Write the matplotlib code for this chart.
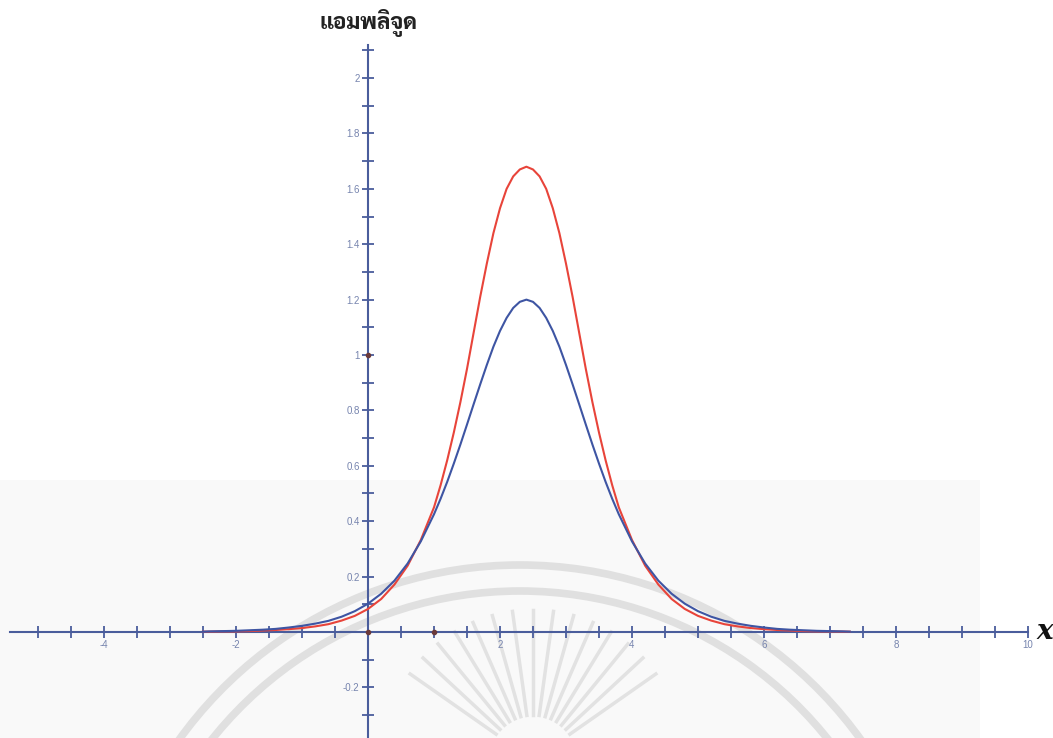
import matplotlib
matplotlib.use("Agg")
import matplotlib.pyplot as plt
import numpy as np
from matplotlib import font_manager as fm
from matplotlib.ft2font import FT2Font
from matplotlib.patches import Arc, Rectangle

# values
x_vals = [-2.5, -2.4, -2.2, -2.0, -1.8, -1.6, -1.4, -1.2, -1.0, -0.8, -0.6, -0.4, -0.2,
          0.0, 0.2, 0.4, 0.6, 0.8, 1.0, 1.1, 1.2, 1.3, 1.4, 1.5, 1.6, 1.7, 1.8, 1.9,
          2.0, 2.1, 2.2, 2.3, 2.4, 2.5, 2.6, 2.7, 2.8, 2.9, 3.0, 3.1, 3.2, 3.3, 3.4,
          3.5, 3.6, 3.7, 3.8, 4.0, 4.2, 4.4, 4.6, 4.8, 5.0,
          5.2, 5.4, 5.6, 5.8, 6.0, 6.2, 6.4, 6.6, 6.8, 7.0, 7.2, 7.3]
red_vals = [0.001, 0.001, 0.002, 0.002, 0.003, 0.005, 0.007, 0.010, 0.014, 0.020, 0.028, 0.041, 0.058,
            0.083, 0.119, 0.171, 0.239, 0.332, 0.450, 0.530, 0.620, 0.720, 0.830, 0.950, 1.080, 1.210,
            1.330, 1.440, 1.530, 1.600, 1.645, 1.670, 1.680, 1.670, 1.645, 1.600, 1.530, 1.440,
            1.330, 1.210, 1.080, 0.950, 0.830, 0.720, 0.620, 0.530, 0.450,
            0.332, 0.239, 0.171, 0.119, 0.083, 0.058,
            0.041, 0.028, 0.020, 0.014, 0.010, 0.007, 0.005, 0.003, 0.002, 0.002, 0.001, 0.001]
blue_vals = [0.001, 0.002, 0.003, 0.004, 0.006, 0.008, 0.011, 0.016, 0.022, 0.030, 0.040, 0.055, 0.075,
             0.102, 0.138, 0.185, 0.247, 0.327, 0.425, 0.481, 0.542, 0.608, 0.677, 0.749, 0.822, 0.894,
             0.964, 1.030, 1.087, 1.134, 1.170, 1.192, 1.200, 1.192, 1.170, 1.134, 1.087, 1.030,
             0.964, 0.894, 0.822, 0.749, 0.677, 0.608, 0.542, 0.481, 0.425,
             0.327, 0.247, 0.185, 0.138, 0.102, 0.075,
             0.055, 0.040, 0.030, 0.022, 0.016, 0.011, 0.008, 0.006, 0.004, 0.003, 0.002, 0.001]

y_title = "แอมพลิจูด"
x_title = "x"

axis_col = "#4a5d9c"
label_col = "#7684ae"


# find an installed font that has thai glyphs, looped style and bold if possible
def thai_font():
    looped = ["Looped", "Garuda", "Loma", "Waree", "Umpush", "Kinnari", "Norasi", "Sarabun", "Tlwg"]
    found = []
    for f in fm.fontManager.ttflist:
        try:
            if 0x0E2D in FT2Font(f.fname).get_charmap():
                found.append(f)
        except Exception:
            pass
    if not found:
        return fm.FontProperties(family="DejaVu Sans", weight="bold")

    def score(f):
        name = f.name + " " + f.fname
        s = 1000 if any(k in name for k in looped) else 0
        w = f.weight if isinstance(f.weight, int) else 400
        return -(s + w) if f.style == "normal" else -w
    found.sort(key=score)
    return fm.FontProperties(fname=found[0].fname)


fig = plt.figure(figsize=(10.53, 7.38), dpi=100)
ax = fig.add_axes([0, 0, 1, 1])
ax.set_xlim(-5.576, 10.379)
ax.set_ylim(-0.383, 2.282)

# faint background band and watermark
ax.add_patch(Rectangle((0, 0), 980, 258, transform=None, color="#f9f9f9", zorder=0, lw=0))
for r in (420, 394):
    ax.add_patch(Arc((520, 738 - 985), 2 * r, 2 * r, theta1=20, theta2=160,
                     transform=None, color="#e0e0e0", lw=5.5, zorder=0.5))
for ang in np.linspace(35, 145, 15):
    t = np.radians(ang)
    ax.plot([533 + 45 * np.cos(t), 533 + 150 * np.cos(t)],
            [738 - 760 + 45 * np.sin(t), 738 - 760 + 150 * np.sin(t)],
            transform=None, color="#e2e2e2", lw=2.5, zorder=0.5)

# curves
ax.plot(x_vals, red_vals, color="#e8443a", lw=1.5, zorder=3)
ax.plot(x_vals, blue_vals, color="#3e55a3", lw=1.5, zorder=3)

# axes through the origin
for s in ("top", "right"):
    ax.spines[s].set_visible(False)
ax.spines["left"].set_position(("data", 0))
ax.spines["bottom"].set_position(("data", 0))
ax.spines["left"].set_bounds(-0.4, 2.12)
ax.spines["bottom"].set_bounds(-5.42, 10.0)
for s in ("left", "bottom"):
    ax.spines[s].set_color(axis_col)
    ax.spines[s].set_linewidth(1.5)
    ax.spines[s].set_zorder(2)

xt = np.arange(-5, 10.01, 0.5)
yt = np.arange(-0.3, 2.11, 0.1)
ax.set_xticks(xt)
ax.set_xticklabels(["%g" % v if (abs(v - round(v)) < 1e-6 and round(v) % 2 == 0 and round(v) != 0) else ""
                    for v in xt])
ax.set_yticks(yt)
ax.set_yticklabels(["%g" % round(v, 1) if (round(v * 10) % 2 == 0 and round(v * 10) != 0) else ""
                    for v in yt])
ax.tick_params(direction="inout", length=8, width=1.3, color=axis_col,
               labelcolor=label_col, labelsize=7, pad=2)
for lab in ax.get_xticklabels() + ax.get_yticklabels():
    lab.set_family("Liberation Sans")

# small dots on the axes
ax.plot([0, 1, 0], [0, 0, 1], "o", ms=3, color="#6b3a3a", zorder=4)

ax.text(0, 2.2, y_title, fontproperties=thai_font(), fontsize=16, fontweight="bold",
        ha="center", va="center", color="#222222")
ax.text(10.13, 0, x_title, family="DejaVu Serif", fontsize=20, fontweight="bold",
        style="italic", ha="left", va="center", color="#111111")

fig.savefig("out.png", dpi=100)
